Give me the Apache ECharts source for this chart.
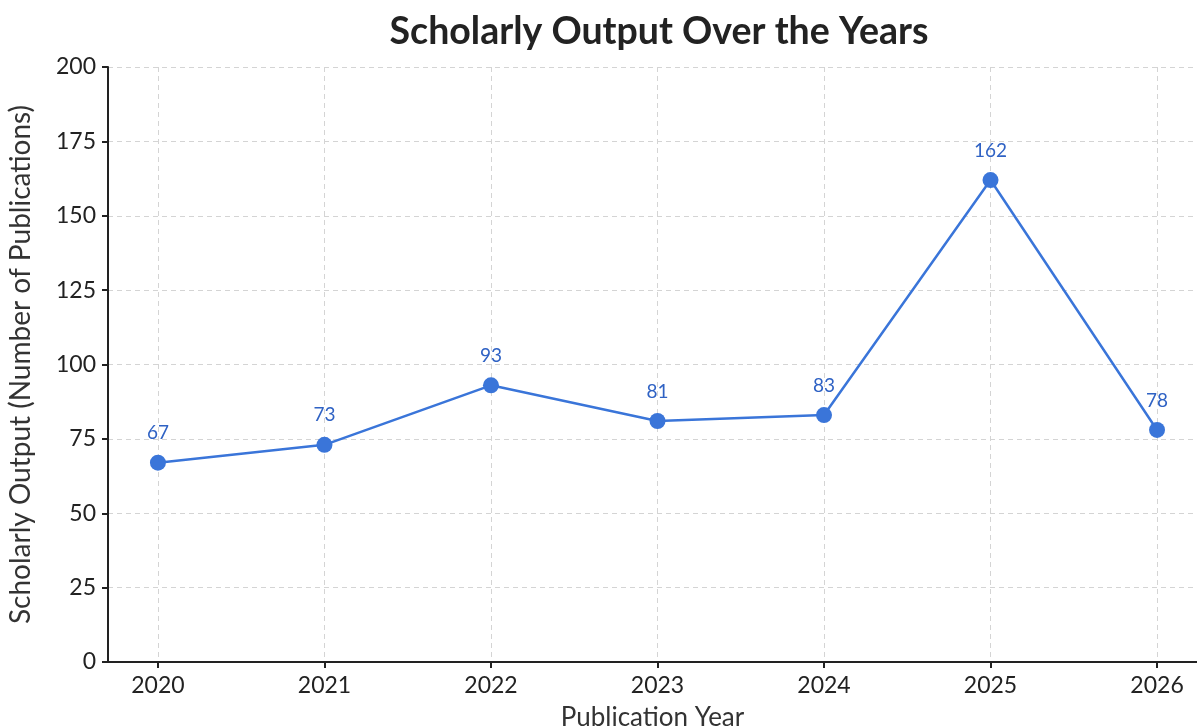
<!DOCTYPE html>
<html>
<head>
<meta charset="utf-8">
<script src="https://cdn.jsdelivr.net/npm/echarts@6/dist/echarts.min.js"></script>
<style>
  html, body { margin: 0; padding: 0; background: #fff; }
  #chart { width: 1197px; height: 728px; }
</style>
</head>
<body>
<div id="chart"></div>
<script>
const years = [2020, 2021, 2022, 2023, 2024, 2025, 2026]
const outputs = [67, 73, 93, 81, 83, 162, 78]

const font = 'Lato, "Open Sans", sans-serif'
const lineColor = '#3a75d9'

const chart = echarts.init(document.getElementById('chart'))

chart.setOption({
  backgroundColor: '#fff',
  title: {
    text: 'Scholarly Output Over the Years',
    left: 654,
    top: 8,
    textAlign: 'center',
    textStyle: { fontFamily: font, fontSize: 37.5, fontWeight: 'bold', color: '#222' }
  },
  grid: { left: 108, right: 0, top: 67, bottom: 66, outerBoundsMode: 'none', containLabel: false },
  xAxis: {
    type: 'value',
    min: 2019.7,
    max: 2026.24,
    name: 'Publication Year',
    nameLocation: 'middle',
    nameGap: 43,
    nameTextStyle: { fontFamily: font, fontSize: 26, color: '#333' },
    axisLine: { lineStyle: { color: '#222', width: 2 } },
    axisTick: { customValues: years, length: 6, lineStyle: { color: '#222', width: 2 } },
    axisLabel: {
      customValues: years,
      formatter: v => String(v),
      fontFamily: font, fontSize: 23, color: '#222', margin: 12
    },
    splitLine: { show: true, lineStyle: { color: '#d4d4d4', type: [5, 4], width: 1 } }
  },
  yAxis: {
    type: 'value',
    min: 0,
    max: 200,
    interval: 25,
    name: 'Scholarly Output (Number of Publications)',
    nameLocation: 'middle',
    nameGap: 73,
    nameTextStyle: { fontFamily: font, fontSize: 28, color: '#333' },
    axisLine: { show: true, lineStyle: { color: '#222', width: 2 } },
    axisTick: { show: true, length: 6, lineStyle: { color: '#222', width: 2 } },
    axisLabel: { fontFamily: font, fontSize: 23, color: '#222', margin: 12 },
    splitLine: { show: true, lineStyle: { color: '#d4d4d4', type: [5, 4], width: 1 } }
  },
  series: [
    {
      type: 'line',
      data: years.map((y, i) => [y, outputs[i]]),
      symbol: 'circle',
      symbolSize: 16,
      lineStyle: { color: lineColor, width: 2.5 },
      itemStyle: { color: lineColor },
      label: {
        show: true,
        position: 'top',
        distance: 12,
        formatter: p => p.value[1],
        fontFamily: font,
        fontSize: 19,
        color: '#2f62c4'
      },
      animation: false
    }
  ]
})
</script>
</body>
</html>
